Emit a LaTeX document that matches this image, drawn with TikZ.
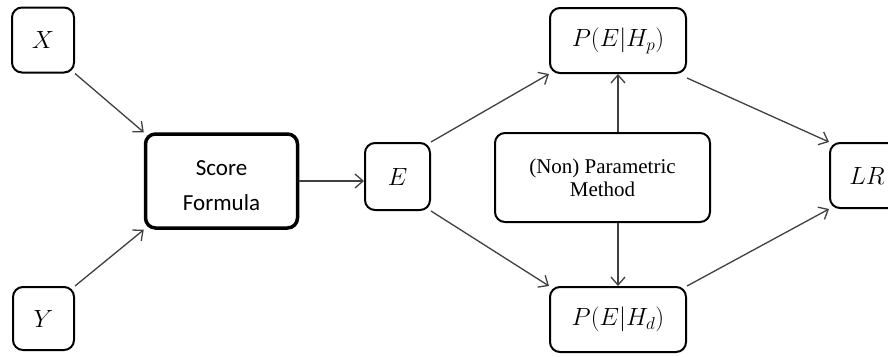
\documentclass[tikz,border=0pt]{standalone}
\usepackage{fontspec}
\usetikzlibrary{arrows.meta}
\newfontfamily\calfont{Carlito}
\newfontfamily\serfont{Liberation Serif}
\begin{document}
\begin{tikzpicture}[x={(1pt,0)},y={(0,-1pt)},
  box/.style={draw=black,line width=2pt,rounded corners=10pt,inner sep=0pt,font=\fontsize{27}{30}\selectfont},
  conn/.style={draw=black!75,line width=1.3pt,-{Straight Barb[length=8pt,width=14pt,line width=1.3pt]}}]
\clip (0,0) rectangle (888,356);
\fill[white] (0,0) rectangle (888,356);
\node[box,minimum width=62pt,minimum height=65pt] (X) at (43,40) {$X$};
\node[box,minimum width=61pt,minimum height=63pt] (Y) at (43.5,318.5) {$Y$};
\node[box,line width=3.5pt,minimum width=152pt,minimum height=94pt] (S) at (221.5,181) {};
\node[align=center,font=\calfont\fontsize{23}{35}\selectfont] (St) at (S.center) [yshift=-5pt] {Score\\Formula};
\node[box,minimum width=65pt,minimum height=67pt] (E) at (397.5,176.5) {$E$};
\node[box,minimum width=136pt,minimum height=65pt] (Hp) at (618,40.5) {$P(E|H_p)$};
\node[box,minimum width=136pt,minimum height=65pt] (Hd) at (618,319.5) {$P(E|H_d)$};
\node[box,minimum width=215pt,minimum height=89pt,align=center,font=\serfont\fontsize{21}{23}\selectfont] (M) at (602.5,177.5) {(Non) Parametric\\Method};
\node[box,minimum width=92pt,minimum height=65pt] (LR) at (876,175.5) {$LR$\hspace*{18pt}};
\draw[conn] (X.south east) -- (S.north west);
\draw[conn] (Y.north east) -- (S.south west);
\draw[conn] (S.east) -- (S.east -| E.west);
\draw[conn] (E.north east) -- (Hp.south west);
\draw[conn] (E.south east) -- (Hd.north west);
\draw[conn] (M.north -| Hp.south) -- (Hp.south);
\draw[conn] (M.south -| Hd.north) -- (Hd.north);
\draw[conn] ([yshift=-4pt]Hp.south east) -- (LR.north west);
\draw[conn] (Hd.north east) -- (LR.south west);
\end{tikzpicture}
\end{document}
